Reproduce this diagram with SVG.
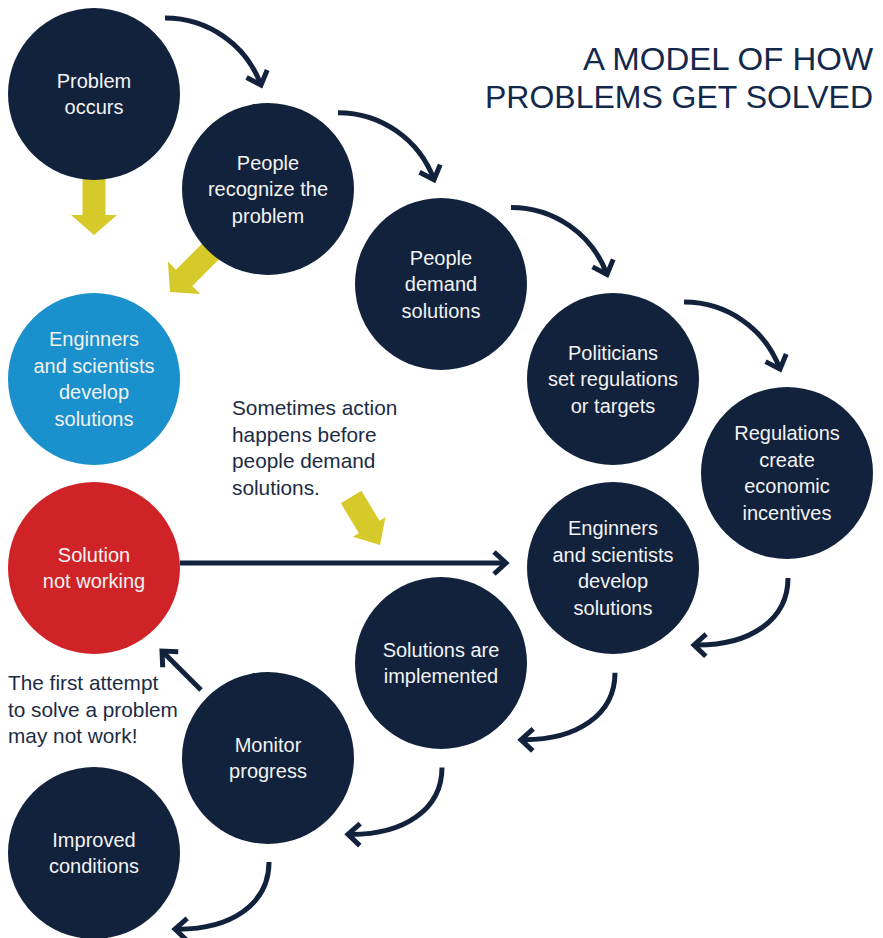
<svg xmlns="http://www.w3.org/2000/svg" width="883" height="938" viewBox="0 0 883 938">
  <style>
    .navy { fill: #12223d; }
    .blue { fill: #1a90cc; }
    .red { fill: #cf2328; }
    .yel { fill: #d6c92a; }
    .lbl { font-family: "Liberation Sans", Arial, sans-serif; font-size: 20px; fill: #f2f2f2; text-anchor: middle; }
    .note { font-family: "Liberation Sans", Arial, sans-serif; font-size: 20.8px; fill: #1c2b45; }
    .title { font-family: "Liberation Sans", Arial, sans-serif; font-size: 32px; fill: #13294b; text-anchor: end; }
    .link { fill: none; stroke: #12223d; stroke-width: 5; marker-end: url(#chev); }
  </style>
  <defs>
    <marker id="chev" markerUnits="userSpaceOnUse" markerWidth="30" markerHeight="30" viewBox="-20 -15 30 30" refX="0" refY="0" orient="auto" overflow="visible">
      <path d="M-12,-11 L0,0 L-12,11" fill="none" stroke="#12223d" stroke-width="5"/>
    </marker>
    <!-- block arrow pointing down, tip at origin -->
    <path id="blockArrow" d="M-11.5,-62 L11.5,-62 L11.5,-20 L23,-20 L0,0 L-23,-20 L-11.5,-20 Z"/>
  </defs>

  <!-- Title -->
  <g id="title">
    <text class="title" x="873" y="70" textLength="290" lengthAdjust="spacingAndGlyphs">A MODEL OF HOW</text>
    <text class="title" x="873" y="108" textLength="388" lengthAdjust="spacingAndGlyphs">PROBLEMS GET SOLVED</text>
  </g>

  <!-- Connectors -->
  <g id="connectors">
    <!-- yellow shortcut arrows -->
    <use href="#blockArrow" class="yel" transform="translate(94,235)"/>
    <use href="#blockArrow" class="yel" transform="translate(170,292) rotate(45)"/>
    <path class="yel" transform="translate(380,545) rotate(-31)" d="M-12,-56 L12,-56 L12,-21 L19,-21 L0,0 L-19,-21 L-12,-21 Z"/>

    <!-- main cycle, stepping down to the right -->
    <path class="link" d="M165,18 A102,102 0 0 1 261,85"/>
    <path class="link" d="M338,112.7 A102,102 0 0 1 434,179.7"/>
    <path class="link" d="M511,207.4 A102,102 0 0 1 607,274.4"/>
    <path class="link" d="M684,302.1 A102,102 0 0 1 780,369.1"/>

    <!-- main cycle, stepping down to the left -->
    <path class="link" d="M788,578 C788,620 750,646 694,645"/>
    <path class="link" d="M615,672.7 C615,714.7 577,740.7 521,739.7"/>
    <path class="link" d="M442,767.4 C442,809.4 404,835.4 348,834.4"/>
    <path class="link" d="M269,862.1 C269,904.1 231,930.1 175,929.1"/>

    <!-- feedback arrows -->
    <path class="link" d="M180,563 L506,563"/>
    <path class="link" d="M201,690 L162,651"/>
  </g>

  <!-- Nodes -->
  <g id="n-problem-occurs">
    <circle class="navy" cx="94" cy="94" r="86"/>
    <text class="lbl" x="94" y="87.75">Problem<tspan x="94" dy="26.5">occurs</tspan></text>
  </g>
  <g id="n-recognize">
    <circle class="navy" cx="268" cy="189" r="86"/>
    <text class="lbl" x="268" y="169.5">People<tspan x="268" dy="26.5">recognize the</tspan><tspan x="268" dy="26.5">problem</tspan></text>
  </g>
  <g id="n-demand">
    <circle class="navy" cx="441" cy="284" r="86"/>
    <text class="lbl" x="441" y="264.5">People<tspan x="441" dy="26.5">demand</tspan><tspan x="441" dy="26.5">solutions</tspan></text>
  </g>
  <g id="n-politicians">
    <circle class="navy" cx="613" cy="379" r="86"/>
    <text class="lbl" x="613" y="359.5">Politicians<tspan x="613" dy="26.5">set regulations</tspan><tspan x="613" dy="26.5">or targets</tspan></text>
  </g>
  <g id="n-regulations">
    <circle class="navy" cx="787" cy="473" r="86"/>
    <text class="lbl" x="787" y="440.25">Regulations<tspan x="787" dy="26.5">create</tspan><tspan x="787" dy="26.5">economic</tspan><tspan x="787" dy="26.5">incentives</tspan></text>
  </g>
  <g id="n-develop">
    <circle class="navy" cx="613" cy="568" r="86"/>
    <text class="lbl" x="613" y="535.25">Enginners<tspan x="613" dy="26.5">and scientists</tspan><tspan x="613" dy="26.5">develop</tspan><tspan x="613" dy="26.5">solutions</tspan></text>
  </g>
  <g id="n-implemented">
    <circle class="navy" cx="441" cy="663" r="86"/>
    <text class="lbl" x="441" y="656.75">Solutions are<tspan x="441" dy="26.5">implemented</tspan></text>
  </g>
  <g id="n-monitor">
    <circle class="navy" cx="268" cy="758" r="86"/>
    <text class="lbl" x="268" y="751.75">Monitor<tspan x="268" dy="26.5">progress</tspan></text>
  </g>
  <g id="n-improved">
    <circle class="navy" cx="94" cy="853" r="86"/>
    <text class="lbl" x="94" y="846.75">Improved<tspan x="94" dy="26.5">conditions</tspan></text>
  </g>
  <g id="n-develop-early">
    <circle class="blue" cx="94" cy="379" r="86"/>
    <text class="lbl" x="94" y="346.25">Enginners<tspan x="94" dy="26.5">and scientists</tspan><tspan x="94" dy="26.5">develop</tspan><tspan x="94" dy="26.5">solutions</tspan></text>
  </g>
  <g id="n-not-working">
    <circle class="red" cx="94" cy="568" r="86"/>
    <text class="lbl" x="94" y="561.75">Solution<tspan x="94" dy="26.5">not working</tspan></text>
  </g>

  <!-- Notes -->
  <g id="note-shortcut">
    <text class="note" x="232" y="415">Sometimes action<tspan x="232" dy="26.5">happens before</tspan><tspan x="232" dy="26.5">people demand</tspan><tspan x="232" dy="26.5">solutions.</tspan></text>
  </g>
  <g id="note-retry">
    <text class="note" x="8" y="690">The first attempt<tspan x="8" dy="26.5">to solve a problem</tspan><tspan x="8" dy="26.5">may not work!</tspan></text>
  </g>
</svg>
